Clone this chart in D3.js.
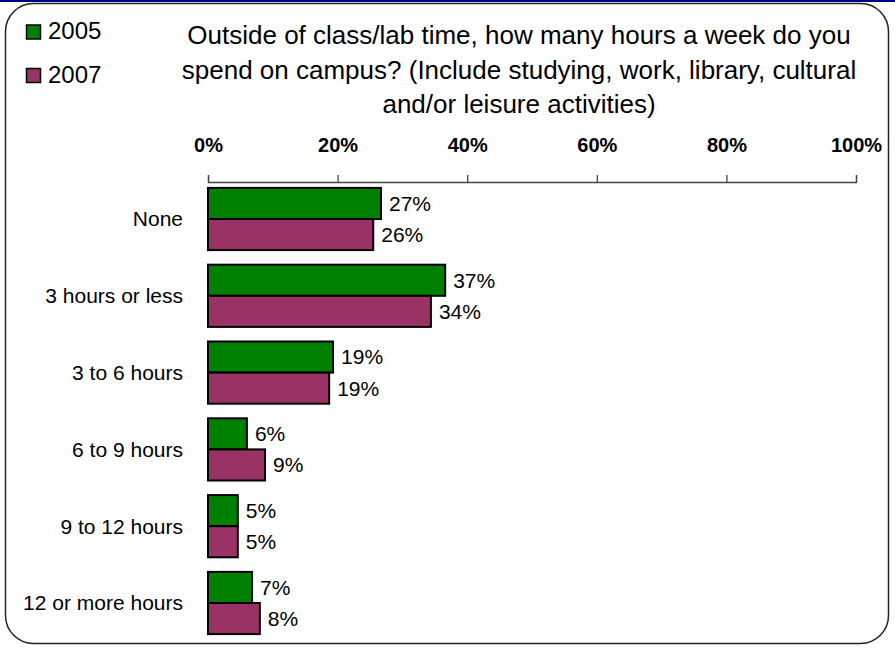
<!DOCTYPE html>
<html><head><meta charset="utf-8">
<script src="https://cdn.jsdelivr.net/npm/d3@7"></script>
<style>body{margin:0;background:#fff}svg{display:block;font-family:"Liberation Sans",Arial,sans-serif}</style>
</head><body>
<script>
const categories = ["None","3 hours or less","3 to 6 hours","6 to 9 hours","9 to 12 hours","12 or more hours"];
const seriesNames = ["2005","2007"];
const values2005 = [26.7, 36.6, 19.3, 6.0, 4.6, 6.8];
const values2007 = [25.5, 34.4, 18.7, 8.8, 4.6, 8.0];
const labels2005 = ["27%","37%","19%","6%","5%","7%"];
const labels2007 = ["26%","34%","19%","9%","5%","8%"];
const tickValues = [0,20,40,60,80,100];
const colors = ["#008000","#993366"];
const titleLines = ["Outside of class/lab time, how many hours a week do you","spend on campus? (Include studying, work, library, cultural","and/or leisure activities)"];

const W=895,H=648;
const FF="Liberation Sans, Arial, sans-serif";
const svg=d3.select("body").append("svg").attr("width",W).attr("height",H);
svg.append("rect").attr("x",0).attr("y",0).attr("width",W).attr("height",2).attr("fill","#000080");
svg.append("rect").attr("x",5.5).attr("y",3.5).attr("width",883).attr("height",640).attr("rx",28).attr("ry",28)
  .attr("fill","#fff").attr("stroke","#222").attr("stroke-width",1.5);

const x=d3.scaleLinear().domain([0,100]).range([208,856]);
const y=d3.scaleBand().domain(categories).range([180.6,641.4]).paddingInner(0.19).paddingOuter(0.095);
const sub=d3.scaleBand().domain(seriesNames).range([0,y.bandwidth()]);

// axis
const axis=d3.axisTop(x).tickValues(tickValues).tickSize(7).tickFormat(d=>d+"%");
const ag=svg.append("g").attr("transform","translate(0,182)").call(axis);
ag.attr("font-family",FF).attr("font-size",20);
ag.select(".domain").attr("stroke","#444").attr("stroke-width",1.3);
ag.selectAll(".tick line").attr("stroke","#444").attr("stroke-width",1.3);
ag.selectAll(".tick text").attr("y",-30).attr("dy","0").attr("font-size",20).attr("font-weight","bold").attr("fill","#000");

// bars
const series=[values2005,values2007];
const labs=[labels2005,labels2007];
series.forEach((vals,si)=>{
  const g=svg.append("g");
  g.selectAll("rect").data(categories).join("rect")
    .attr("x",x(0)).attr("y",c=>y(c)+sub(seriesNames[si]))
    .attr("width",(c,i)=>x(vals[i])-x(0)).attr("height",sub.bandwidth())
    .attr("fill",colors[si]).attr("stroke","#000").attr("stroke-width",2);
  g.selectAll("text").data(categories).join("text")
    .attr("x",(c,i)=>x(vals[i])+8).attr("y",c=>y(c)+sub(seriesNames[si])+sub.bandwidth()/2)
    .attr("dy","0.35em").attr("font-size",21).text((c,i)=>labs[si][i]);
});

// category labels
svg.append("g").selectAll("text").data(categories).join("text")
  .attr("x",183).attr("y",c=>y(c)+y.bandwidth()/2).attr("dy","0.35em")
  .attr("text-anchor","end").attr("font-size",21).text(d=>d);

// title
svg.append("g").selectAll("text").data(titleLines).join("text")
  .attr("x",519).attr("y",(d,i)=>44+i*34.5).attr("text-anchor","middle").attr("font-size",26).text(d=>d);

// legend
const lg=svg.append("g");
seriesNames.forEach((s,i)=>{
  lg.append("rect").attr("x",26.5).attr("y",25+i*43.5).attr("width",14).attr("height",14)
    .attr("fill",colors[i]).attr("stroke","#000").attr("stroke-width",1.5);
  lg.append("text").attr("x",48).attr("y",39+i*43.5).attr("font-size",24).text(s);
});
</script>
</body></html>
